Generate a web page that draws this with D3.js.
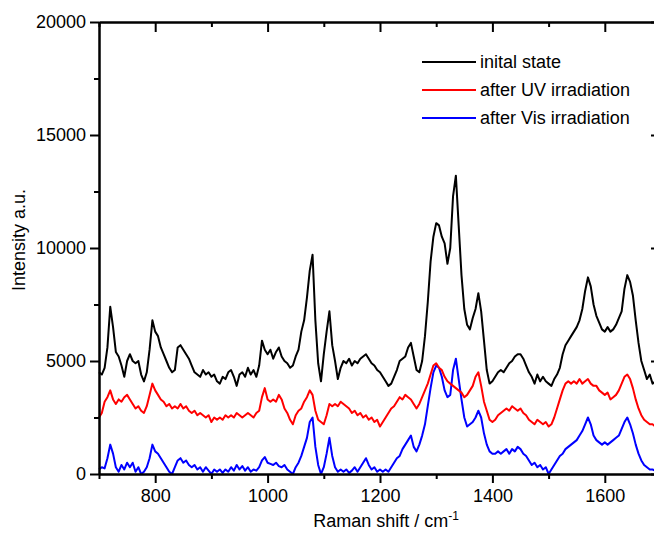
<!DOCTYPE html>
<html>
<head>
<meta charset="utf-8">
<script src="https://cdn.jsdelivr.net/npm/d3@7"></script>
<style>
  html, body { margin: 0; padding: 0; background: #fff; }
  svg { display: block; }
  text { font-family: "Liberation Sans", Arial, sans-serif; fill: #000; }
</style>
</head>
<body>
<svg id="chart" width="654" height="534"></svg>
<script>
// Raman shift sampling grid (cm-1): 700 ... 1690, step 5
const shiftStart = 700, shiftStep = 5;

const seriesNames = ["inital state", "after UV irradiation", "after Vis irradiation"];
const seriesColors = ["#000000", "#ff0000", "#0000ff"];

const initialState = [
  4500,4400,4700,5600,7400,6500,5400,5200,4800,4300,5000,5300,5000,4900,5000,4400,4100,4500,5500,6800,
  6300,6100,5600,5300,5000,4700,4500,4600,5600,5700,5500,5300,5100,4800,4500,4400,4300,4600,4400,4500,
  4300,4400,4100,4000,4300,4200,4500,4600,4300,3900,4400,4500,4300,4700,4400,4600,4300,4800,5900,5500,
  5300,5500,5100,5400,5600,5200,5000,4900,4700,4800,5200,5500,6300,6800,7800,9000,9700,6800,4900,4100,
  5300,6300,7200,5700,5000,4200,4700,5000,4900,5100,4800,5000,4900,5100,5200,5300,5100,4900,4800,4600,
  4500,4300,4100,3900,4000,4300,4600,5000,5100,5200,5600,5800,5200,4600,4500,5000,6100,7600,9400,10500,
  11100,11000,10500,10200,9300,10000,12300,13200,11000,8800,7300,6600,6400,6900,7300,8000,7200,5900,4600,4000,
  4100,4300,4500,4600,4500,4700,4900,5000,5200,5300,5300,5100,4800,4500,4300,4000,4400,4100,4300,4100,
  4000,3900,4200,4400,4700,5300,5700,5900,6100,6300,6500,6800,7300,8100,8700,8300,7500,7000,6700,6400,
  6300,6500,6300,6400,6600,6900,7200,8200,8800,8500,7900,6800,5800,5000,4600,4200,4400,4000,4100
];

const afterUV = [
  2500,2700,3200,3400,3700,3300,3100,3300,3200,3400,3500,3300,3100,2900,3000,2800,2700,3000,3500,4000,
  3700,3500,3300,3200,3000,3100,2900,3000,2900,3100,2900,3000,2800,2700,2800,2600,2700,2600,2500,2600,
  2300,2500,2400,2500,2400,2600,2500,2600,2500,2700,2600,2500,2600,2700,2600,2500,2700,2800,3400,3800,
  3300,3200,3300,3200,3500,3300,2900,2700,2400,2200,2600,2800,2900,3200,3400,3700,3500,2800,2400,2300,
  2200,2600,3100,3000,3100,3000,3200,3100,3000,2900,2700,2800,2600,2700,2500,2600,2400,2500,2300,2400,
  2100,2300,2500,2700,2900,3000,3200,3400,3300,3500,3400,3300,3100,2900,3100,3400,3700,4000,4400,4800,
  4900,4700,4600,4300,4100,4000,3900,3800,3700,3600,3400,3500,3700,3900,4300,4500,3900,3200,2800,2400,
  2300,2400,2600,2700,2800,2900,2800,3000,2900,2800,2900,2700,2600,2400,2300,2200,2400,2300,2200,2300,
  2100,2200,2500,2900,3300,3700,4000,4100,4000,4100,4000,4200,4000,4100,4200,4000,3900,3900,3700,3600,
  3500,3600,3300,3400,3500,3700,4000,4300,4400,4200,3800,3300,2900,2600,2400,2300,2200,2200,2100
];

const afterVis = [
  200,300,250,700,1300,900,300,100,400,200,500,300,500,100,300,0,100,300,700,1300,
  1000,900,700,500,300,100,0,300,600,700,500,600,400,300,400,200,300,100,300,150,
  0,200,100,200,50,200,100,300,150,400,200,350,150,300,100,200,150,300,600,750,
  500,450,400,500,350,300,400,200,100,0,300,500,800,1200,1600,2300,2500,1200,400,0,
  300,900,1600,800,300,100,200,100,200,50,150,300,100,300,500,700,400,200,300,100,
  200,100,200,100,300,500,700,800,1100,1300,1500,1700,1200,1000,1300,1700,2200,3000,3800,4500,
  4800,4700,4300,3700,3400,3500,4600,5100,4200,3300,2500,2100,2200,2300,2500,2800,2500,1800,1300,1000,
  900,900,1000,900,1000,1100,900,1100,1000,1200,1100,900,800,600,400,500,300,400,200,300,
  0,200,400,600,800,900,1100,1200,1300,1400,1500,1700,1900,2200,2500,2200,1700,1500,1400,1300,
  1400,1300,1400,1500,1600,1700,2000,2300,2500,2200,1800,1300,900,600,400,300,200,200,150
];

const xMajorTicks = [800, 1000, 1200, 1400, 1600];
const xMinorTicks = [700, 900, 1100, 1300, 1500, 1700];
const yMajorTicks = [0, 5000, 10000, 15000, 20000];
const yMinorTicks = [2500, 7500, 12500, 17500];

const xTitle = "Raman shift / cm";
const xTitleSup = "-1";
const yTitle = "Intensity a.u.";

// ---------- drawing ----------
const svg = d3.select("#chart");
const pLeft = 99, pRight = 661, pTop = 22, pBottom = 474;

const x = d3.scaleLinear().domain([700, 1700]).range([pLeft, pRight]);
const y = d3.scaleLinear().domain([0, 20000]).range([pBottom, pTop]);

const allSeries = [initialState, afterUV, afterVis];

const line = d3.line()
  .x((d, i) => x(shiftStart + i * shiftStep))
  .y(d => y(d));

[2, 1, 0].forEach(k => {
  svg.append("path")
    .datum(allSeries[k])
    .attr("fill", "none")
    .attr("stroke", seriesColors[k])
    .attr("stroke-width", 2)
    .attr("stroke-linejoin", "round")
    .attr("d", line);
});

const fontSize = 18;
const axisW = 2;

function styleAxis(g) {
  g.select(".domain").attr("stroke", "#000").attr("stroke-width", axisW);
  g.selectAll(".tick line").attr("stroke", "#000").attr("stroke-width", axisW);
  g.selectAll(".tick text").attr("font-size", fontSize).attr("font-family", '"Liberation Sans", Arial, sans-serif').attr("fill", "#000");
}

// bottom
svg.append("g").attr("transform", `translate(0,${pBottom})`)
  .call(d3.axisBottom(x).tickValues(xMinorTicks).tickSize(5).tickFormat("").tickSizeOuter(0))
  .call(styleAxis);
svg.append("g").attr("transform", `translate(0,${pBottom})`)
  .call(d3.axisBottom(x).tickValues(xMajorTicks).tickSize(9).tickPadding(6).tickFormat(d3.format("d")).tickSizeOuter(0))
  .call(styleAxis);

// top (ticks inward)
svg.append("g").attr("transform", `translate(0,${pTop})`)
  .call(d3.axisBottom(x).tickValues(xMinorTicks).tickSize(5).tickFormat("").tickSizeOuter(0))
  .call(styleAxis);
svg.append("g").attr("transform", `translate(0,${pTop})`)
  .call(d3.axisBottom(x).tickValues(xMajorTicks).tickSize(10).tickFormat("").tickSizeOuter(0))
  .call(styleAxis);

// left
svg.append("g").attr("transform", `translate(${pLeft},0)`)
  .call(d3.axisLeft(y).tickValues(yMinorTicks).tickSize(5).tickFormat("").tickSizeOuter(0))
  .call(styleAxis);
svg.append("g").attr("transform", `translate(${pLeft},0)`)
  .call(d3.axisLeft(y).tickValues(yMajorTicks).tickSize(9).tickPadding(4).tickFormat(d3.format("d")).tickSizeOuter(0))
  .call(styleAxis);

// right (ticks inward)
svg.append("g").attr("transform", `translate(${pRight},0)`)
  .call(d3.axisLeft(y).tickValues(yMinorTicks).tickSize(5).tickFormat("").tickSizeOuter(0))
  .call(styleAxis);
svg.append("g").attr("transform", `translate(${pRight},0)`)
  .call(d3.axisLeft(y).tickValues(yMajorTicks).tickSize(10).tickFormat("").tickSizeOuter(0))
  .call(styleAxis);

// axis titles
const xt = svg.append("text")
  .attr("x", (pLeft + pRight) / 2 + 6)
  .attr("y", 527)
  .attr("text-anchor", "middle")
  .attr("font-size", fontSize);
xt.append("tspan").text(xTitle);
xt.append("tspan").attr("font-size", 12).attr("dy", -7).text(xTitleSup);

svg.append("text")
  .attr("transform", `translate(25,240) rotate(-90)`)
  .attr("text-anchor", "middle")
  .attr("font-size", fontSize)
  .text(yTitle);

// legend
const legY = [62, 90, 118];
seriesNames.forEach((name, k) => {
  svg.append("line")
    .attr("x1", 422).attr("x2", 476)
    .attr("y1", legY[k]).attr("y2", legY[k])
    .attr("stroke", seriesColors[k]).attr("stroke-width", 2);
  svg.append("text")
    .attr("x", 480).attr("y", legY[k] + 6)
    .attr("font-size", fontSize)
    .text(name);
});
</script>
</body>
</html>
